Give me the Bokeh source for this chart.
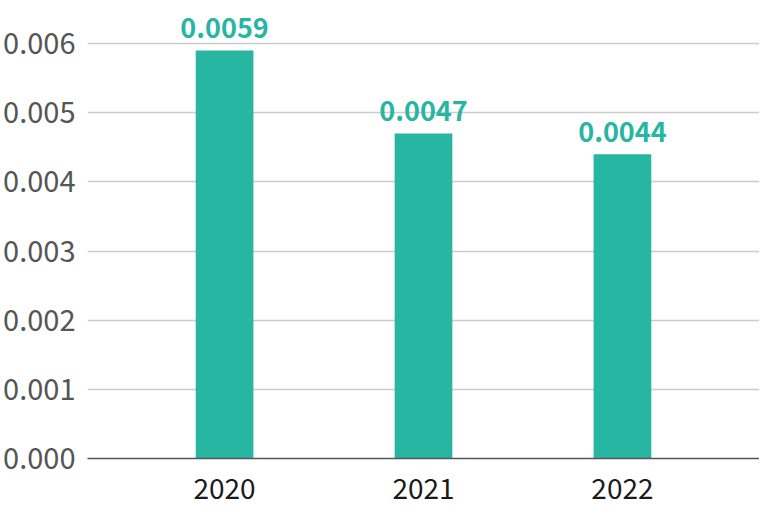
from bokeh.plotting import figure
from bokeh.models import ColumnDataSource, FactorRange, Range1d, SingleIntervalTicker, NumeralTickFormatter
from bokeh.core.properties import value
from bokeh.embed import file_html
from bokeh.resources import INLINE

years = ["2020", "2021", "2022"]
values = [0.0059, 0.0047, 0.0044]
labels = ["0.0059", "0.0047", "0.0044"]

TEAL = "#27b6a2"

src = ColumnDataSource(dict(x=years, top=values, label=labels))

p = figure(
    x_range=FactorRange(*years, range_padding=0.126, range_padding_units="percent"),
    y_range=Range1d(0, 0.006623),
    width=759, height=508,
    output_backend="svg", toolbar_location=None,
    min_border_left=0, min_border_top=0, min_border_right=0, min_border_bottom=50,
)
p.outline_line_color = None
p.background_fill_color = "white"
p.border_fill_color = "white"

p.vbar(x="x", top="top", width=0.29, source=src, color=TEAL, line_color=None)
p.text(x="x", y="top", text="label", source=src, text_align="center", text_baseline="bottom",
       y_offset=-12, text_color=TEAL, text_font_size="27px", text_font_style="bold",
       text_font=value("Noto Sans CJK JP"))

p.yaxis.ticker = SingleIntervalTicker(interval=0.001)
p.yaxis.formatter = NumeralTickFormatter(format="0.000")
p.yaxis.axis_line_color = None
p.yaxis.major_tick_line_color = None
p.yaxis.minor_tick_line_color = None
p.yaxis.major_label_text_font = "Noto Sans CJK JP"
p.yaxis.major_label_text_font_size = "29px"
p.yaxis.major_label_text_color = "#555555"
p.yaxis.major_label_standoff = 6

p.xaxis.axis_line_color = "#555555"
p.xaxis.axis_line_width = 1.5
p.xaxis.major_tick_line_color = None
p.xaxis.minor_tick_line_color = None
p.xaxis.major_label_text_font = "Noto Sans CJK JP"
p.xaxis.major_label_text_font_size = "28px"
p.xaxis.major_label_text_color = "#1a1a1a"
p.xaxis.major_label_standoff = 13

p.xgrid.grid_line_color = None
p.ygrid.grid_line_color = "#cccccc"
p.ygrid.grid_line_width = 1.5

open("out.html", "w").write(file_html(p, INLINE))
